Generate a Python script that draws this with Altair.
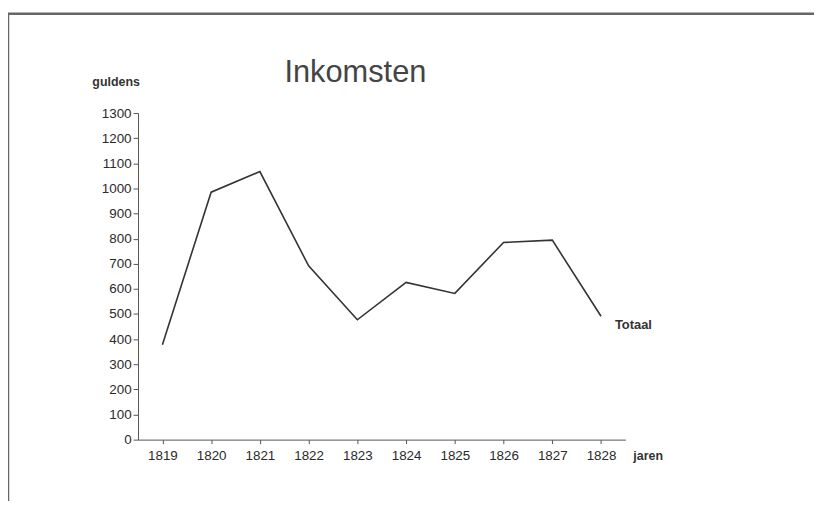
import altair as alt
import pandas as pd

years = ["1819", "1820", "1821", "1822", "1823", "1824", "1825", "1826", "1827", "1828"]
totaal = [378, 985, 1067, 692, 477, 626, 582, 785, 794, 491]
y_ticks = [0, 100, 200, 300, 400, 500, 600, 700, 800, 900, 1000, 1100, 1200, 1300]

df = pd.DataFrame({"jaar": years, "guldens": totaal})
last = df.tail(1).assign(label="Totaal")

FONT = "Liberation Sans"
W, H = 491, 329
PAD_L, PAD_T = 131, 104

x = alt.X("jaar:O", sort=years, title=None,
          scale=alt.Scale(type="point", padding=0.5),
          axis=alt.Axis(labelAngle=0, domainColor="#555", tickColor="#555",
                        tickSize=4, labelPadding=5, labelFontSize=13.5,
                        labelColor="#2a2a2a", labelFont=FONT, grid=False))
y = alt.Y("guldens:Q", title=None,
          scale=alt.Scale(domain=[0, 1300], nice=False),
          axis=alt.Axis(values=y_ticks, format="d", labelOverlap=False,
                        domainColor="#555", tickColor="#555",
                        tickSize=5, labelPadding=2, labelFontSize=13.5,
                        labelColor="#2a2a2a", labelFont=FONT, grid=False))

line = alt.Chart(df).mark_line(color="#333", strokeWidth=1.6).encode(x=x, y=y)

label = alt.Chart(last).mark_text(
    font=FONT, fontSize=13, fontWeight="bold", color="#333",
    align="left", dx=14, dy=9
).encode(x=x, y=y, text="label:N")

border = alt.Chart(df.head(1)).mark_rect(
    fill=None, stroke="#666", strokeWidth=2.5, clip=False
).encode(x=alt.value(-131), x2=alt.value(800), y=alt.value(-100), y2=alt.value(700))

title = alt.Chart(df.head(1)).mark_text(
    text="Inkomsten", font=FONT, fontSize=31, color="#444",
    align="center", baseline="alphabetic"
).encode(x=alt.value(219), y=alt.value(-31))

guldens = alt.Chart(df.head(1)).mark_text(
    text="guldens", font=FONT, fontSize=12.5, fontWeight="bold", color="#333",
    align="left", baseline="middle"
).encode(x=alt.value(-46), y=alt.value(-31))

jaren = alt.Chart(df.head(1)).mark_text(
    text="jaren", font=FONT, fontSize=12.5, fontWeight="bold", color="#333",
    align="left", baseline="middle"
).encode(x=alt.value(499), y=alt.value(H + 17))

chart = alt.layer(border, line, label, title, guldens, jaren).properties(
    width=W, height=H, background="white",
    autosize=alt.AutoSizeParams(type="none"),
    padding={"left": PAD_L, "top": PAD_T, "right": 190, "bottom": 60},
).configure_view(strokeWidth=0, stroke=None)

chart.save("out.html", embed_options={"renderer": "svg", "actions": False})
